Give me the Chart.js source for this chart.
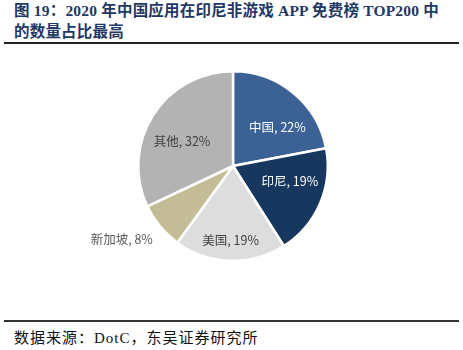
<!DOCTYPE html>
<html>
<head>
<meta charset="utf-8">
<script src="https://cdn.jsdelivr.net/npm/chart.js@4"></script>
<style>
  body { margin: 0; background: #fff; width: 463px; height: 350px; position: relative; overflow: hidden; }
  #title { position: absolute; left: 14px; top: 0px; width: 449px; white-space: nowrap; font: bold 15.5px "Liberation Serif", "Noto Sans CJK SC", serif; letter-spacing: 0.2px; line-height: 21px; color: #1F3864; }
  #rule1 { position: absolute; left: 4px; top: 42px; width: 455px; height: 2px; background: #222; }
  #box { position: absolute; left: 0; top: 60px; width: 463px; height: 220px; }
  #rule2 { position: absolute; left: 4px; top: 320px; width: 455px; height: 2px; background: #333; }
  #source { position: absolute; left: 14px; top: 326px; font: 15px "Liberation Serif", "Noto Sans CJK SC", serif; letter-spacing: 1px; color: #111; }
</style>
</head>
<body>
<div id="title">图 19：2020 年中国应用在印尼非游戏 APP 免费榜 TOP200 中<br>的数量占比最高</div>
<div id="rule1"></div>
<div id="box"><canvas id="chart1"></canvas></div>
<div id="rule2"></div>
<div id="source">数据来源：DotC，东吴证券研究所</div>
<script>
var countries = ['中国', '印尼', '美国', '新加坡', '其他'];
var shares = [22, 19, 19, 8, 32];
var sliceColors = ['#3B6195', '#17375E', '#DDDDDD', '#C4BC96', '#B3B3B3'];

// label placement: fraction of radius along slice middle, plus a small nudge
var labelStyle = [
    { r: 0.62, dx: 7, dy: 7, color: '#FFFFFF' },
    { r: 0.62, dx: 3, dy: -8, color: '#FFFFFF' },
    { r: 0.78, dx: 0, dy: 0, color: '#404040' },
    { r: 1.25, dx: -20, dy: -2, color: '#595959' },
    { r: 0.6, dx: -3, dy: 6, color: '#404040' }
];

var pieLabels = {
    id: 'pieLabels',
    afterDatasetsDraw: function(chart) {
        var ctx = chart.ctx;
        var arcs = chart.getDatasetMeta(0).data;
        ctx.save();
        ctx.font = '12.5px "Noto Sans CJK SC", sans-serif';
        ctx.textAlign = 'center';
        ctx.textBaseline = 'middle';
        arcs.forEach(function(arc, i) {
            var mid = (arc.startAngle + arc.endAngle) / 2;
            var s = labelStyle[i];
            var rr = arc.outerRadius * s.r;
            var x = arc.x + Math.cos(mid) * rr + s.dx;
            var y = arc.y + Math.sin(mid) * rr + s.dy;
            ctx.fillStyle = s.color;
            ctx.fillText(countries[i] + ', ' + shares[i] + '%', x, y);
        });
        ctx.restore();
    }
};

document.addEventListener('DOMContentLoaded', function() {
    var ctx1 = document.getElementById('chart1').getContext('2d');
    new Chart(ctx1, {
        type: 'pie',
        data: {
            labels: countries,
            datasets: [{
                data: shares,
                backgroundColor: sliceColors,
                borderColor: '#FFFFFF',
                borderWidth: 2.5
            }]
        },
        options: {
            responsive: true,
            maintainAspectRatio: false,
            animation: false,
            layout: { padding: { top: 10, bottom: 18, left: 3, right: 0 } },
            plugins: {
                legend: { display: false },
                tooltip: { enabled: false }
            }
        },
        plugins: [pieLabels]
    });
});
</script>
</body>
</html>
